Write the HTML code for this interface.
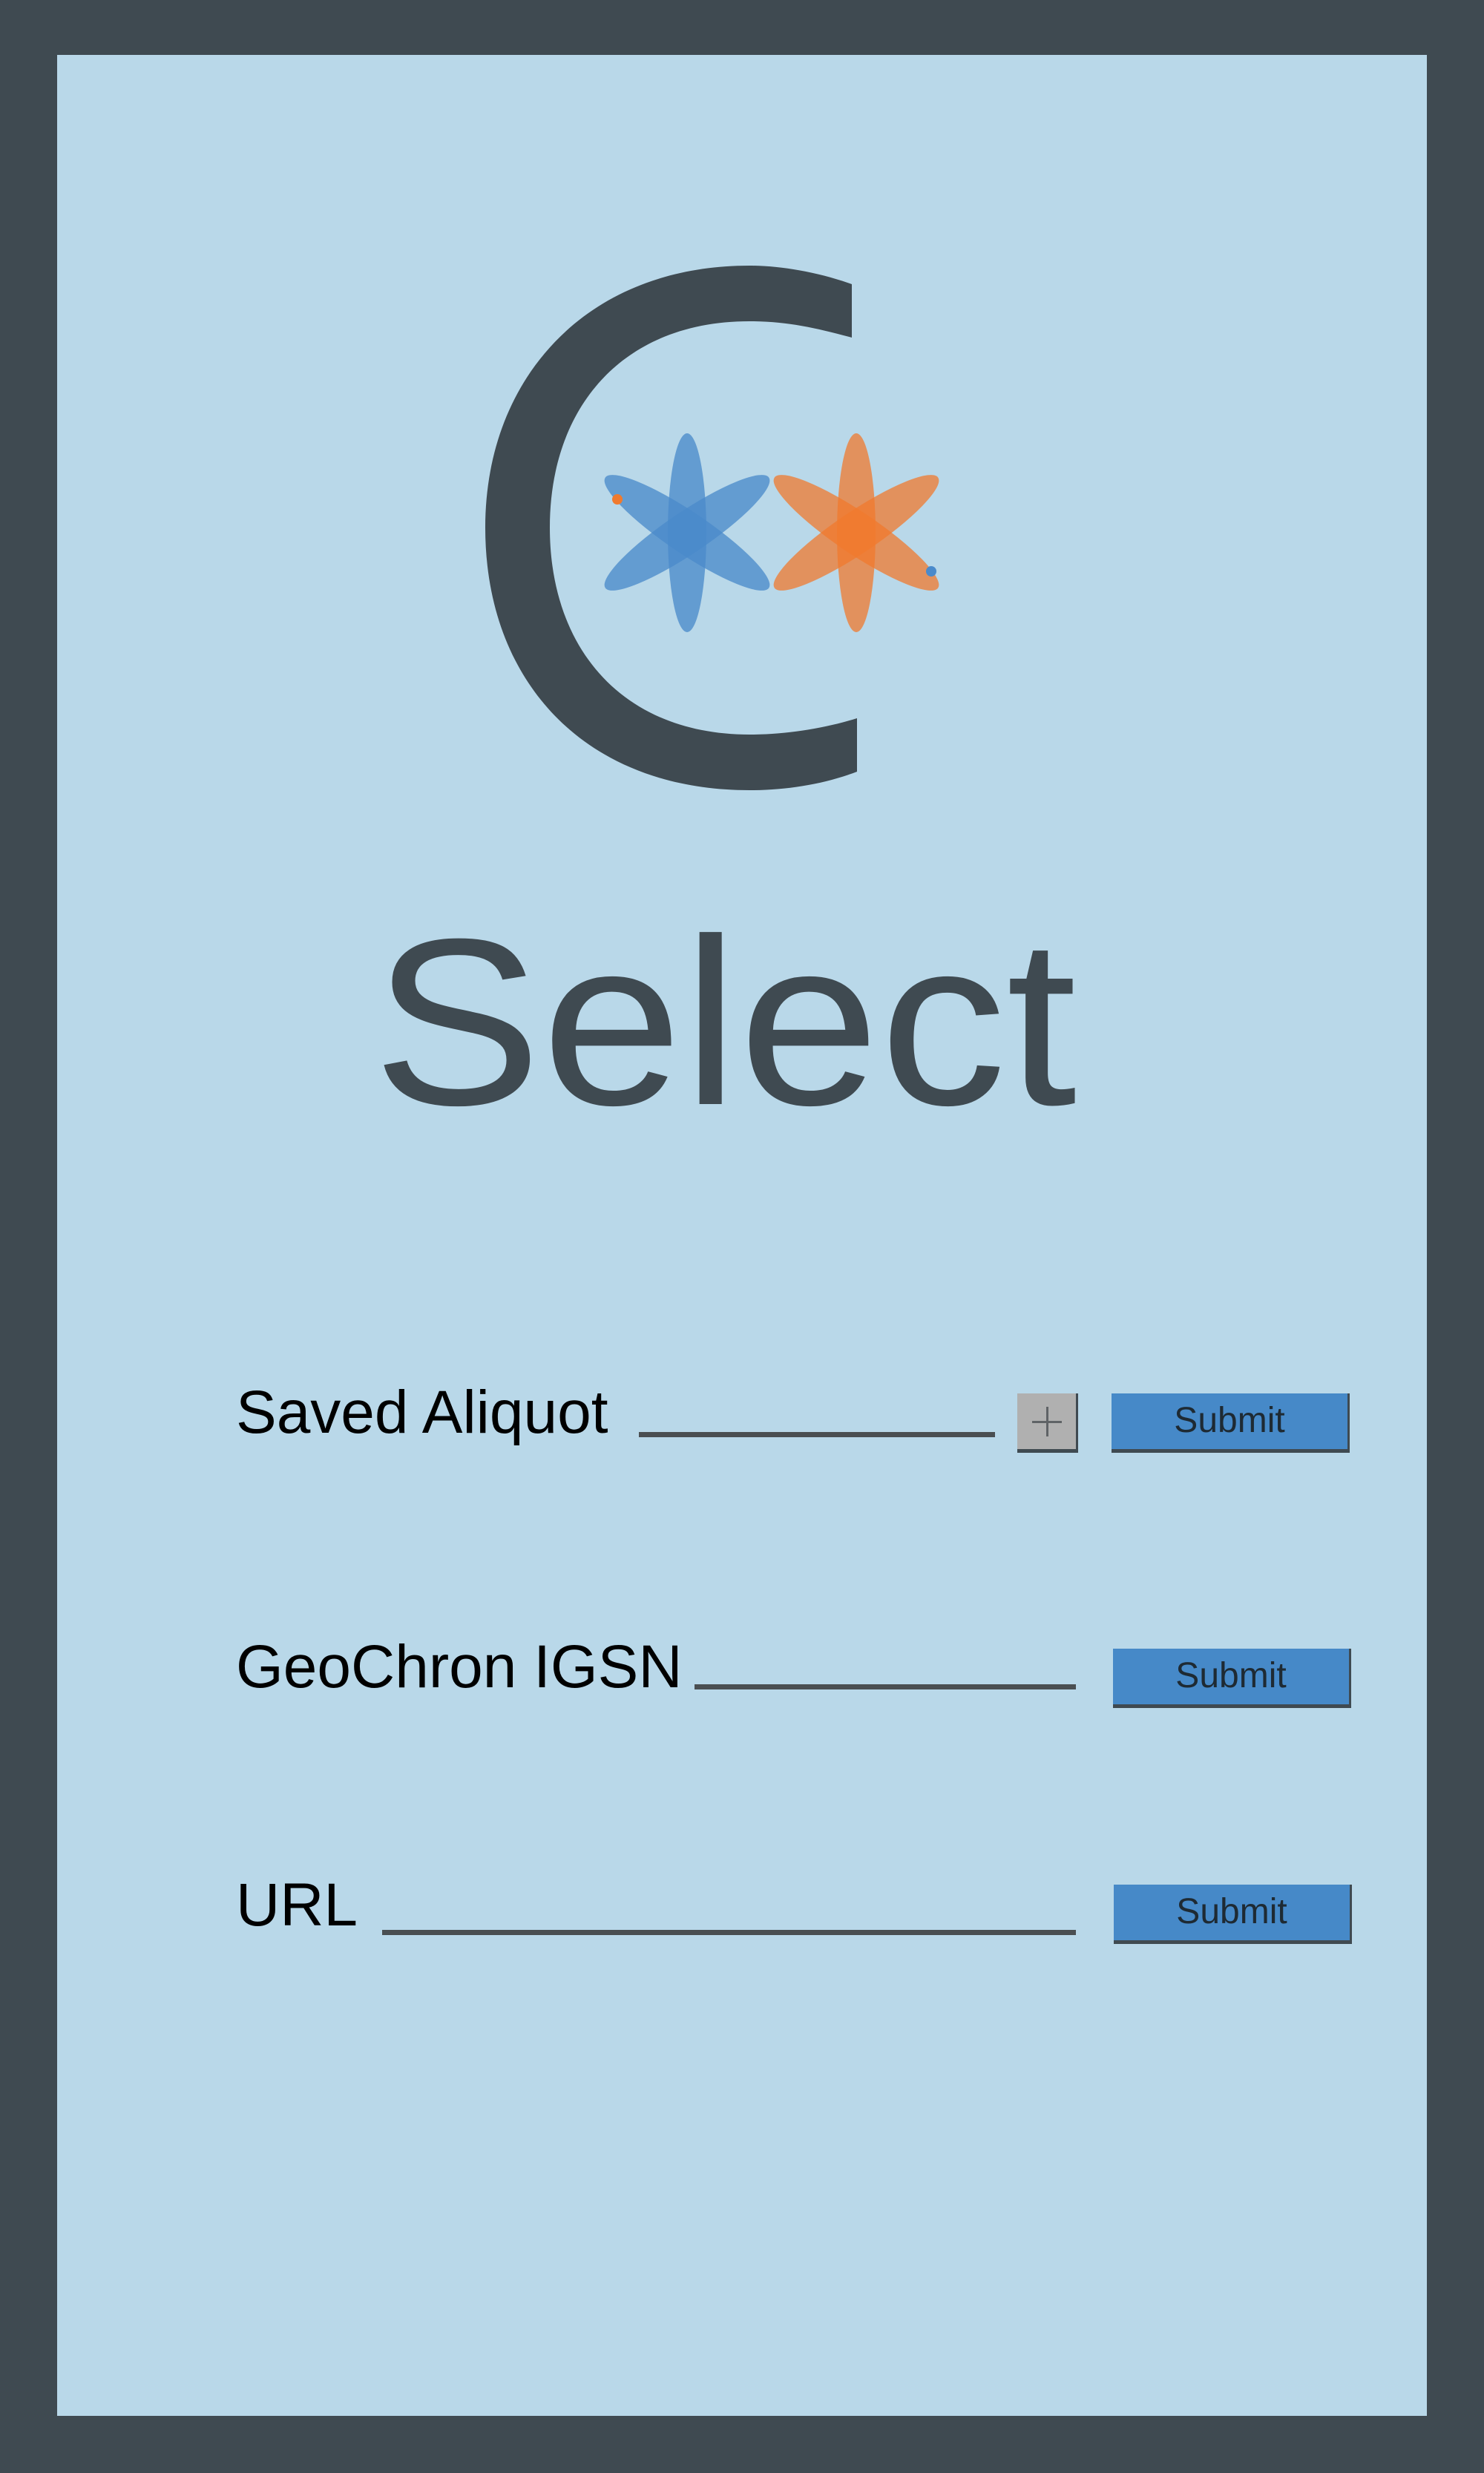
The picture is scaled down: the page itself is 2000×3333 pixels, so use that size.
<!DOCTYPE html>
<html><head><meta charset="utf-8"><style>
html,body{margin:0;padding:0;}
body{width:2000px;height:3333px;background:#3f4a51;position:relative;overflow:hidden;font-family:"Liberation Sans",sans-serif;}
.panel{position:absolute;left:77px;top:74px;width:1846px;height:3182px;background:#b9d8e9;}
.lbl{position:absolute;color:#000;font-size:82px;line-height:1;white-space:nowrap;}
.line{position:absolute;background:#4a4f52;height:7px;}
.btn{position:absolute;background:#4689c8;border-right:3px solid #3f4a51;border-bottom:5px solid #3f4a51;box-sizing:border-box;color:#1e2a33;font-size:48px;text-align:center;line-height:74px;height:80px;width:321px;}
.plus{position:absolute;left:1371px;top:1878px;width:82px;height:80px;background:#b0b0b0;border-right:3px solid #3f4a51;border-bottom:5px solid #3f4a51;box-sizing:border-box;}
</style></head><body>
<div class="panel"></div>
<svg width="2000" height="3333" style="position:absolute;left:0;top:0">
<path fill="#3f4a51" d="M1148,383 C1100,366 1050,358 1010,358 C790,358 654,510 654,711 C654,920 790,1065 1010,1065 C1060,1065 1110,1057 1155,1040 L1155,968 C1110,982 1060,990 1010,990 C840,990 741,875 741,711 C741,548 840,433 1010,433 C1060,433 1100,442 1148,455 Z"/>
<g fill="#4a8acb" fill-opacity="0.78">
<ellipse cx="926" cy="718" rx="26" ry="134"/>
<ellipse cx="926" cy="718" rx="133" ry="28" transform="rotate(-34 926 718)"/>
<ellipse cx="926" cy="718" rx="133" ry="28" transform="rotate(34 926 718)"/>
</g>
<g fill="#f07a2e" fill-opacity="0.75">
<ellipse cx="1154" cy="718" rx="26" ry="134"/>
<ellipse cx="1154" cy="718" rx="133" ry="28" transform="rotate(-34 1154 718)"/>
<ellipse cx="1154" cy="718" rx="133" ry="28" transform="rotate(34 1154 718)"/>
</g>
<circle cx="832" cy="673" r="7" fill="#f07a2e"/>
<circle cx="1255" cy="770" r="7" fill="#4a8acb"/>
<text x="502" y="1488" font-family="Liberation Sans, sans-serif" font-size="320" fill="#3f4a51" textLength="949" lengthAdjust="spacingAndGlyphs">Select</text>
</svg>
<div class="lbl" style="left:318px;top:1863px">Saved Aliquot</div>
<div class="line" style="left:861px;top:1930px;width:480px"></div>
<div class="plus"><div style="position:absolute;left:20px;top:37px;width:40px;height:3px;background:#5f6366"></div><div style="position:absolute;left:39px;top:18px;width:3px;height:40px;background:#5f6366"></div></div>
<div class="btn" style="left:1498px;top:1878px">Submit</div>
<div class="lbl" style="left:318px;top:2206px">GeoChron IGSN</div>
<div class="line" style="left:936px;top:2270px;width:514px"></div>
<div class="btn" style="left:1500px;top:2222px">Submit</div>
<div class="lbl" style="left:318px;top:2527px">URL</div>
<div class="line" style="left:515px;top:2601px;width:935px"></div>
<div class="btn" style="left:1501px;top:2540px">Submit</div>
</body></html>
